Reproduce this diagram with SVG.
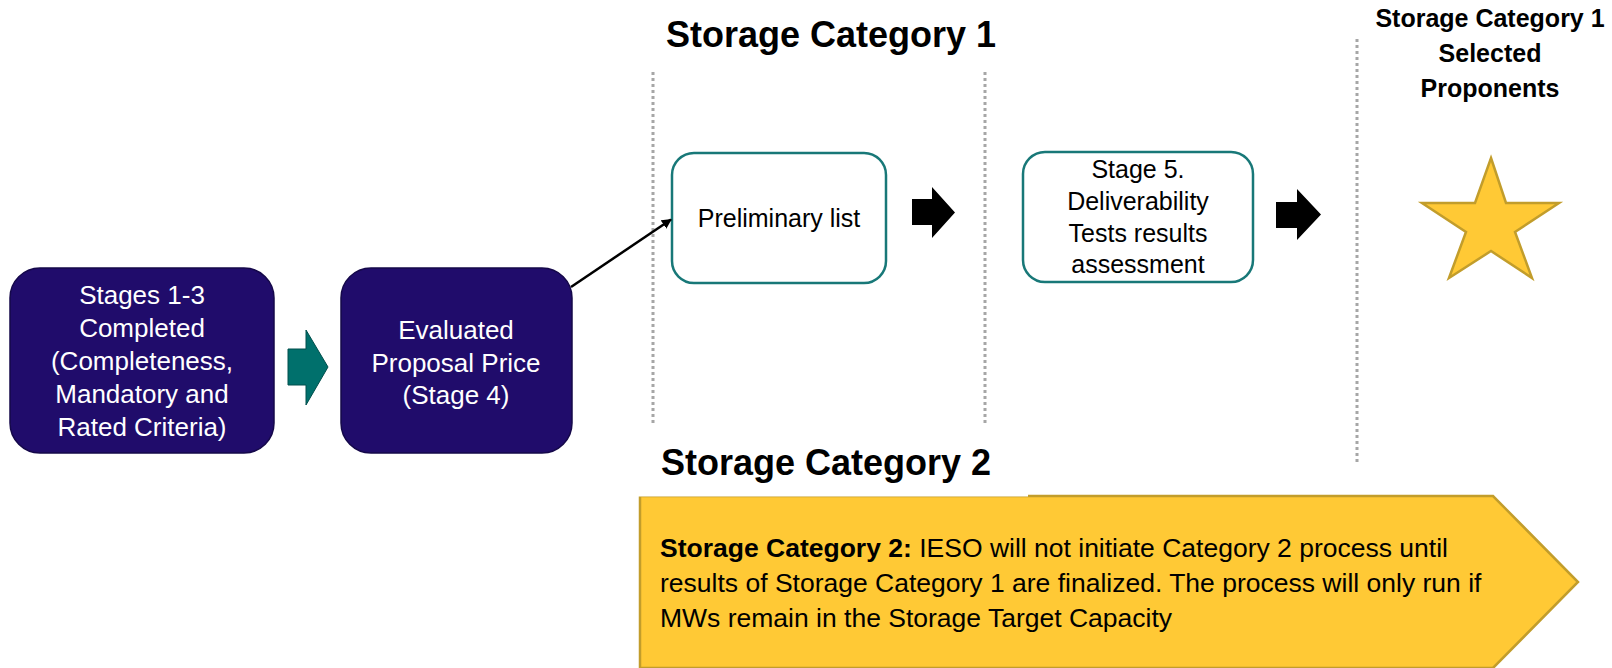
<svg xmlns="http://www.w3.org/2000/svg" width="1612" height="668" viewBox="0 0 1612 668">
<style>
.t{font-family:"Liberation Sans",Arial,sans-serif;font-size:25px;fill:#000;text-anchor:middle}
.w{fill:#fff;font-size:26px}
.y{font-size:26.5px;text-anchor:start}
.b{font-weight:bold}
.dark{fill:#200C6B;stroke:#15084A;stroke-width:1.5}
.out{fill:#fff;stroke:#187878;stroke-width:2.5}
.dot{stroke:#A6A6A6;stroke-width:3;stroke-dasharray:3 3;fill:none}
.blk{fill:#000}
</style>
<defs>
<marker id="ah" markerWidth="10" markerHeight="10" refX="9" refY="5" orient="auto" markerUnits="userSpaceOnUse" viewBox="0 0 10 10">
<path d="M0,0 L10,5 L0,10 z" fill="#000"/>
</marker>
</defs>
<rect width="1612" height="668" fill="#fff"/>

<g id="dividers">
<line class="dot" x1="653" y1="72" x2="653" y2="425"/>
<line class="dot" x1="985" y1="72" x2="985" y2="425"/>
<line class="dot" x1="1357" y1="39" x2="1357" y2="465"/>
</g>

<g id="title1"><text class="t b" x="831" y="47" style="font-size:36px">Storage Category 1</text></g>

<g id="title-selected">
<text class="t b" x="1490" y="27" style="font-size:25px">Storage Category 1</text>
<text class="t b" x="1490" y="62" style="font-size:25px">Selected</text>
<text class="t b" x="1490" y="97" style="font-size:25px">Proponents</text>
</g>

<g id="cat2-box">
<path d="M640,496 L1493,496 L1578,582 L1493,668 L640,668 Z" fill="#FFC935" stroke="#C29D2B" stroke-width="2.5"/>
<rect x="620" y="430" width="408" height="66.5" fill="#fff"/>
<text class="t y" x="660" y="557"><tspan class="b">Storage Category 2:</tspan> IESO will not initiate Category 2 process until</text>
<text class="t y" x="660" y="592">results of Storage Category 1 are finalized. The process will only run if</text>
<text class="t y" x="660" y="627">MWs remain in the Storage Target Capacity</text>
</g>

<g id="title2"><text class="t b" x="826" y="475" style="font-size:36px">Storage Category 2</text></g>

<g id="stages13">
<rect class="dark" x="10" y="268" width="264" height="185" rx="30" ry="30"/>
<text class="t w" x="142" y="304">Stages 1-3</text>
<text class="t w" x="142" y="337">Completed</text>
<text class="t w" x="142" y="370">(Completeness,</text>
<text class="t w" x="142" y="403">Mandatory and</text>
<text class="t w" x="142" y="436">Rated Criteria)</text>
</g>

<g id="stage4">
<rect class="dark" x="341" y="268" width="231" height="185" rx="30" ry="30"/>
<text class="t w" x="456" y="339">Evaluated</text>
<text class="t w" x="456" y="372">Proposal Price</text>
<text class="t w" x="456" y="404">(Stage 4)</text>
</g>

<g id="prelim">
<rect class="out" x="672" y="153" width="214" height="130" rx="22" ry="22"/>
<text class="t" x="779" y="227">Preliminary list</text>
</g>

<g id="stage5">
<rect class="out" x="1023" y="152" width="230" height="130" rx="22" ry="22"/>
<text class="t" x="1138" y="178">Stage 5.</text>
<text class="t" x="1138" y="210">Deliverability</text>
<text class="t" x="1138" y="242">Tests results</text>
<text class="t" x="1138" y="273">assessment</text>
</g>

<g id="star">
<path d="M1491,158 L1506,203 L1559,203 L1515,232 L1532,278 L1491,251 L1449,278 L1466,232 L1422,203 L1475,203 Z" fill="#FFC935" stroke="#C29D2B" stroke-width="2.5" stroke-linejoin="miter"/>
</g>

<g id="connectors">
<path d="M288,349 L306,349 L306,330 L328,367 L306,405 L306,385 L288,385 Z" fill="#00706C" stroke="#004F4C" stroke-width="1"/>
<line x1="571" y1="287" x2="671" y2="219.5" stroke="#000" stroke-width="2.5" marker-end="url(#ah)"/>
<path class="blk" d="M912,199 L932,199 L932,187 L955,212.5 L932,238 L932,225 L912,225 Z"/>
<path class="blk" d="M1276,202 L1297,202 L1297,189 L1321,214.5 L1297,240 L1297,228 L1276,228 Z"/>
</g>
</svg>
